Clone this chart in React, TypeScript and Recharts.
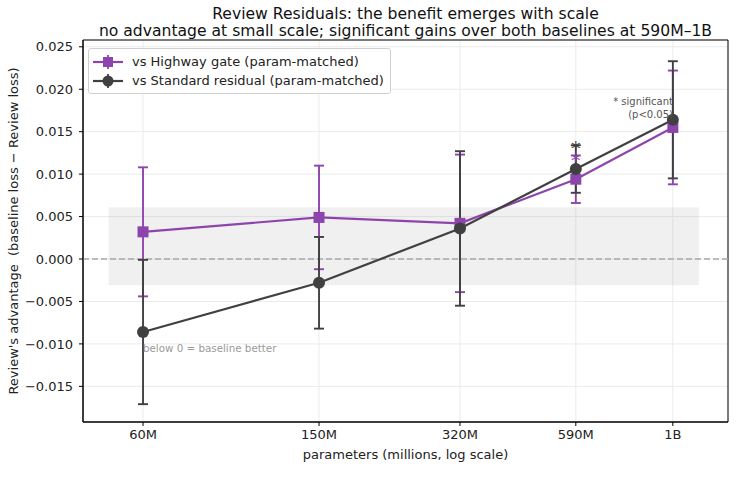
import {
  ComposedChart,
  Line,
  XAxis,
  YAxis,
  CartesianGrid,
  ErrorBar,
  ReferenceLine,
  ReferenceArea,
  Legend,
} from 'recharts'

// model sizes in millions of parameters (log x axis)
const params = [60, 152, 320, 590, 985]
const paramLabels = ['60M', '150M', '320M', '590M', '1B']
const minorTicks = [50, 70, 80, 90, 200, 300, 400, 500, 600, 700, 800, 900]

// Review advantage vs Highway gate, mean and 95% CI half-width
const highwayMean = [0.0032, 0.0049, 0.0042, 0.0094, 0.0155]
const highwayErr = [0.0076, 0.0061, 0.0081, 0.0028, 0.0067]

// Review advantage vs Standard residual
const standardMean = [-0.0086, -0.0028, 0.0036, 0.0106, 0.0164]
const standardErr = [0.0085, 0.0054, 0.0091, 0.0028, 0.0069]

// p<0.05 flags
const highwaySig = [false, false, false, true, false]
const standardSig = [false, false, false, true, false]

const yTicks = [-0.015, -0.01, -0.005, 0, 0.005, 0.01, 0.015, 0.02, 0.025]
const xDomain = [43.7, 1318]
const yDomain = [-0.0192, 0.0258]

// shaded "noise" band
const bandX = [50, 1130]
const bandY = [-0.0031, 0.0061]

const PURPLE = '#8e44ad'
const DARK = '#404040'
const FONT = '"DejaVu Sans", sans-serif'

const data = params.map((p, i) => ({
  p,
  hw: highwayMean[i],
  hwErr: highwayErr[i],
  std: standardMean[i],
  stdErr: standardErr[i],
  hwSig: highwaySig[i] ? highwayMean[i] + highwayErr[i] : null,
  stdSig: standardSig[i] ? standardMean[i] + standardErr[i] : null,
}))

const fmtY = (v: number) => (v < 0 ? '\u2212' : '') + Math.abs(v).toFixed(3)
const fmtX = (v: number) => paramLabels[params.indexOf(v)] ?? ''

const SquareDot = (props: any) => {
  const { cx, cy, index } = props
  return <rect key={`sq-${index}`} x={cx - 5.5} y={cy - 5.5} width={11} height={11} fill={PURPLE} />
}

const CircleDot = (props: any) => {
  const { cx, cy, index } = props
  return <circle key={`ci-${index}`} cx={cx} cy={cy} r={6} fill={DARK} />
}

// asterisk centred on the top of the error bar
const star = (color: string, dy: number) => (props: any) => {
  const { cx, cy, index, value } = props
  if (value == null || !Number.isFinite(cy)) return <g key={`st-${index}`} />
  return (
    <text key={`st-${index}`} x={cx} y={cy + dy} textAnchor="middle" fontSize={19} fill={color} fontFamily={FONT}>
      *
    </text>
  )
}

const legendItems = [
  { label: 'vs Highway gate (param-matched)', color: PURPLE, shape: 'square' },
  { label: 'vs Standard residual (param-matched)', color: DARK, shape: 'circle' },
]

const LegendBox = () => (
  <div
    style={{
      border: '1px solid #d0d0d0',
      borderRadius: 3,
      background: 'rgba(255,255,255,0.8)',
      padding: '3px 6px 3px 4px',
      fontFamily: FONT,
      fontSize: 13,
      color: '#222',
    }}
  >
    {legendItems.map(it => (
      <div key={it.label} style={{ display: 'flex', alignItems: 'center', height: 19 }}>
        <svg width={30} height={16} style={{ marginRight: 9 }}>
          <line x1={0} y1={8} x2={30} y2={8} stroke={it.color} strokeWidth={2.2} />
          <line x1={15} y1={1} x2={15} y2={15} stroke={it.color} strokeWidth={1.8} />
          {it.shape === 'square'
            ? <rect x={10} y={3} width={10} height={10} fill={it.color} />
            : <circle cx={15} cy={8} r={5.5} fill={it.color} />}
        </svg>
        <span>{it.label}</span>
      </div>
    ))}
  </div>
)

export default function App() {
  return (
    <div style={{ position: 'absolute', left: 0, top: 0, width: 736, height: 499, background: '#fff', fontFamily: FONT }}>
      <div style={{ position: 'absolute', left: 83, width: 645, top: 6, textAlign: 'center', fontSize: 15.6, lineHeight: '17px', color: '#111' }}>
        <div>Review Residuals: the benefit emerges with scale</div>
        <div>no advantage at small scale; significant gains over both baselines at 590M–1B</div>
      </div>

      <ComposedChart width={736} height={499} data={data} margin={{ top: 40, right: 8, left: 0, bottom: 0 }}>
        <CartesianGrid stroke="#ebebeb" strokeWidth={1} />
        <XAxis
          xAxisId="minor"
          dataKey="p"
          type="number"
          scale="log"
          domain={xDomain}
          allowDataOverflow
          ticks={minorTicks}
          tickFormatter={() => ''}
          tickSize={2}
          axisLine={false}
          tickLine={{ stroke: '#000', strokeWidth: 0.6 }}
          height={0}
        />
        <XAxis
          dataKey="p"
          type="number"
          scale="log"
          domain={xDomain}
          allowDataOverflow
          ticks={params}
          tickFormatter={fmtX}
          tickSize={4}
          tickMargin={4}
          height={77}
          axisLine={{ stroke: '#000' }}
          tickLine={{ stroke: '#000' }}
          tick={{ fontSize: 13, fill: '#222', fontFamily: FONT }}
        />
        <YAxis
          type="number"
          domain={yDomain}
          allowDataOverflow
          ticks={yTicks}
          tickFormatter={fmtY}
          tickSize={4}
          tickMargin={6}
          width={83}
          axisLine={{ stroke: '#000' }}
          tickLine={{ stroke: '#000' }}
          tick={{ fontSize: 13, fill: '#222', fontFamily: FONT }}
        />
        <ReferenceArea x1={bandX[0]} x2={bandX[1]} y1={bandY[0]} y2={bandY[1]} fill="#808080" fillOpacity={0.12} stroke="none" />
        <ReferenceLine y={0} stroke="#a8a8a8" strokeWidth={1.3} strokeDasharray="6 3" />
        <ReferenceArea x1={xDomain[0]} x2={xDomain[1]} y1={yDomain[0]} y2={yDomain[1]} fill="none" stroke="#000" strokeWidth={1} />

        <Line dataKey="hw" stroke={PURPLE} strokeWidth={2.2} dot={SquareDot} activeDot={false} isAnimationActive={false}>
          <ErrorBar dataKey="hwErr" direction="y" width={5} stroke={PURPLE} strokeWidth={1.9} />
        </Line>
        <Line dataKey="std" stroke={DARK} strokeWidth={2.2} dot={CircleDot} activeDot={false} isAnimationActive={false}>
          <ErrorBar dataKey="stdErr" direction="y" width={5} stroke={DARK} strokeWidth={1.9} />
        </Line>
        <Line dataKey="hwSig" stroke="none" dot={star(PURPLE, 11.5)} activeDot={false} isAnimationActive={false} legendType="none" />
        <Line dataKey="stdSig" stroke="none" dot={star(DARK, 10)} activeDot={false} isAnimationActive={false} legendType="none" />

        <Legend
          layout="vertical"
          align="center"
          verticalAlign="middle"
          content={LegendBox}
          wrapperStyle={{ left: 88, top: 48, width: 'auto', height: 'auto' }}
        />
      </ComposedChart>

      <div style={{ position: 'absolute', left: 143, top: 342, fontSize: 10.3, color: '#9a9a9a' }}>below 0 = baseline better</div>
      <div style={{ position: 'absolute', right: 736 - 673, top: 95, fontSize: 10, color: '#555', textAlign: 'right', lineHeight: '13px' }}>
        <div>* significant</div>
        <div>(p&lt;0.05)</div>
      </div>

      <div style={{ position: 'absolute', left: 83, width: 645, top: 447, textAlign: 'center', fontSize: 13, color: '#222' }}>
        parameters (millions, log scale)
      </div>
      <div
        style={{
          position: 'absolute',
          left: 13,
          top: 231,
          transform: 'translate(-50%, -50%) rotate(-90deg)',
          whiteSpace: 'pre',
          fontSize: 13,
          color: '#222',
        }}
      >
        {"Review's advantage  (baseline loss \u2212 Review loss)"}
      </div>
    </div>
  )
}
